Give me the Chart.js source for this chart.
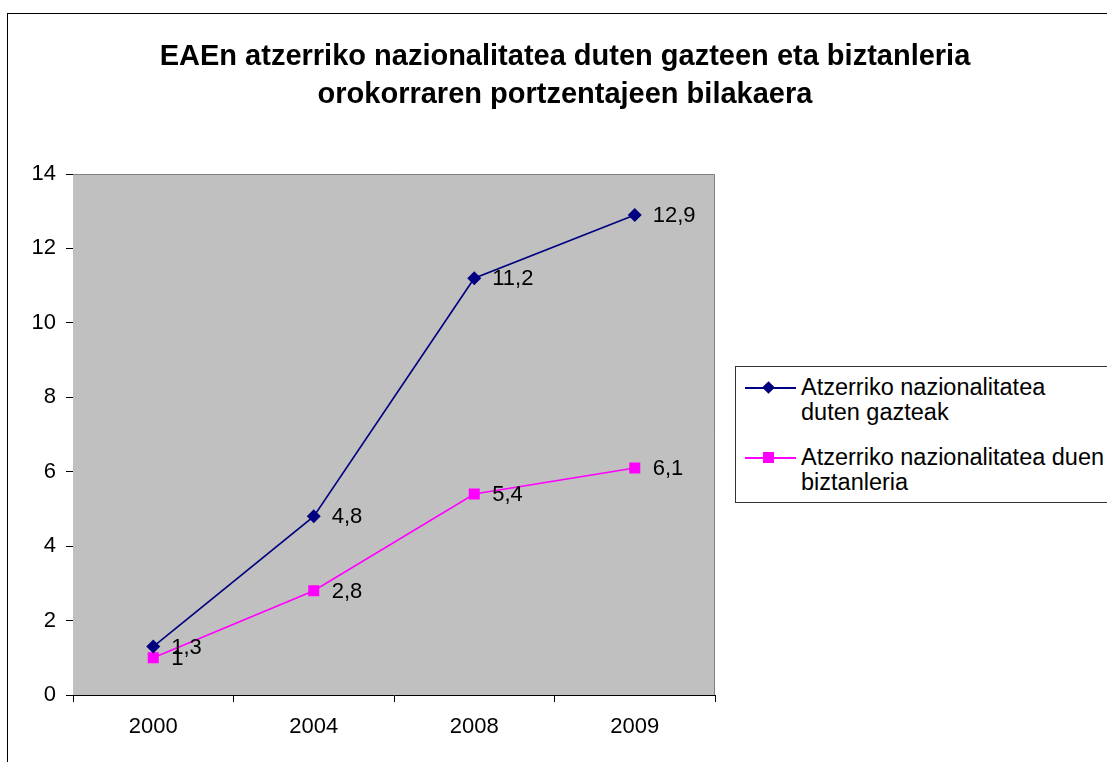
<!DOCTYPE html>
<html>
<head>
<meta charset="utf-8">
<script src="https://cdn.jsdelivr.net/npm/chart.js@4"></script>
<style>
  body { margin: 0; background: #fff; overflow: hidden; }
  #wrap { position: relative; width: 1107px; height: 762px; overflow: hidden; font-family: "Liberation Sans", Arial, sans-serif; }
  #frame { position: absolute; left: 7px; top: 13px; width: 1200px; height: 900px; border: 1px solid #000; }
  #grafikoa { position: absolute; left: 0; top: 0; }
  #izenburua { position: absolute; left: 115px; width: 900px; top: 36px; text-align: center; font-weight: bold; font-size: 29px; line-height: 38px; color: #000; }
  #legenda { position: absolute; left: 735px; top: 366px; width: 420px; height: 135px; border: 1px solid #333; background: #fff; }
  .sarrera { position: absolute; left: 0; }
  .lerroa { position: absolute; left: 9px; width: 51px; height: 2px; }
  .markatzailea { position: absolute; }
  .testua { position: absolute; left: 65px; font-size: 23.5px; line-height: 25px; white-space: nowrap; color: #000; }
</style>
</head>
<body>
<div id="wrap">
  <div id="frame"></div>
  <canvas id="grafikoa" width="1107" height="762"></canvas>
  <div id="izenburua">EAEn atzerriko nazionalitatea duten gazteen eta biztanleria<br>orokorraren portzentajeen bilakaera</div>
  <div id="legenda"></div>
</div>
<script>
// Datuak
const urteak = ['2000', '2004', '2008', '2009'];
const gazteak = [1.3, 4.8, 11.2, 12.9];
const biztanleria = [1, 2.8, 5.4, 6.1];
const seriesIzenak = [
    ['Atzerriko nazionalitatea', 'duten gazteak'],
    ['Atzerriko nazionalitatea duen', 'biztanleria']
];
const koloreak = ['#000080', '#FF00FF'];
const letra = '"Liberation Sans", Arial, sans-serif';

// Legenda HTMLn
const legenda = document.getElementById('legenda');
const legendaTop = [8, 78];
seriesIzenak.forEach(function (izena, i) {
    const s = document.createElement('div');
    s.className = 'sarrera';
    s.style.top = legendaTop[i] + 'px';
    const lerroa = document.createElement('div');
    lerroa.className = 'lerroa';
    lerroa.style.top = '12px';
    lerroa.style.background = koloreak[i];
    s.appendChild(lerroa);
    const m = document.createElement('div');
    m.className = 'markatzailea';
    m.style.background = koloreak[i];
    if (i === 0) {
        m.style.width = '9px'; m.style.height = '9px';
        m.style.left = '28px'; m.style.top = '8px';
        m.style.transform = 'rotate(45deg)';
    } else {
        m.style.width = '11px'; m.style.height = '11px';
        m.style.left = '27px'; m.style.top = '7px';
    }
    s.appendChild(m);
    const t = document.createElement('div');
    t.className = 'testua';
    t.style.top = '0px';
    t.innerHTML = izena.join('<br>');
    s.appendChild(t);
    legenda.appendChild(s);
});

// Grafikoaren atzealdea (grisa) eta ertza
const atzealdea = {
    id: 'atzealdea',
    beforeDatasetsDraw: function (chart) {
        const a = chart.chartArea;
        const ctx = chart.ctx;
        ctx.save();
        ctx.fillStyle = '#C0C0C0';
        ctx.fillRect(a.left, a.top, a.right - a.left, a.bottom - a.top);
        ctx.strokeStyle = '#808080';
        ctx.lineWidth = 1;
        ctx.beginPath();
        ctx.moveTo(a.left, a.top + 0.5);
        ctx.lineTo(a.right - 0.5, a.top + 0.5);
        ctx.lineTo(a.right - 0.5, a.bottom);
        ctx.stroke();
        ctx.restore();
    }
};

// Balioen etiketak
const etiketak = {
    id: 'etiketak',
    afterDatasetsDraw: function (chart) {
        const ctx = chart.ctx;
        ctx.save();
        ctx.font = '22px ' + letra;
        ctx.fillStyle = '#000';
        ctx.textAlign = 'left';
        ctx.textBaseline = 'middle';
        chart.data.datasets.forEach(function (ds, i) {
            chart.getDatasetMeta(i).data.forEach(function (p, j) {
                const testua = String(ds.data[j]).replace('.', ',');
                ctx.fillText(testua, p.x + 18, p.y + 1);
            });
        });
        ctx.restore();
    }
};

new Chart(document.getElementById('grafikoa'), {
    type: 'line',
    data: {
        labels: urteak,
        datasets: [{
            label: seriesIzenak[0].join(' '),
            data: gazteak,
            borderColor: koloreak[0],
            backgroundColor: koloreak[0],
            borderWidth: 1.6,
            pointStyle: 'rectRot',
            pointRadius: 7,
            pointBorderWidth: 0,
            tension: 0
        }, {
            label: seriesIzenak[1].join(' '),
            data: biztanleria,
            borderColor: koloreak[1],
            backgroundColor: koloreak[1],
            borderWidth: 1.6,
            pointStyle: 'rect',
            pointRadius: 7.8,
            pointBorderWidth: 0,
            tension: 0
        }]
    },
    options: {
        responsive: false,
        devicePixelRatio: 1,
        animation: false,
        layout: { padding: { left: 8, top: 174, right: 392, bottom: 0 } },
        plugins: {
            legend: { display: false },
            title: { display: false },
            tooltip: { enabled: false }
        },
        scales: {
            x: {
                offset: true,
                grid: { offset: true, drawOnChartArea: false, drawTicks: true, tickLength: 7, color: '#000' },
                border: { color: '#000', width: 1 },
                ticks: { color: '#000', font: { family: letra, size: 22 }, padding: 12, maxRotation: 0 },
                afterFit: function (s) { s.height = 67; }
            },
            y: {
                min: 0,
                max: 14,
                grid: { drawOnChartArea: false, drawTicks: true, tickLength: 7, color: '#000' },
                border: { color: '#000', width: 1 },
                ticks: { stepSize: 2, color: '#000', font: { family: letra, size: 22 }, padding: 10 },
                afterFit: function (s) { s.width = 65; }
            }
        }
    },
    plugins: [atzealdea, etiketak]
});
</script>
</body>
</html>
